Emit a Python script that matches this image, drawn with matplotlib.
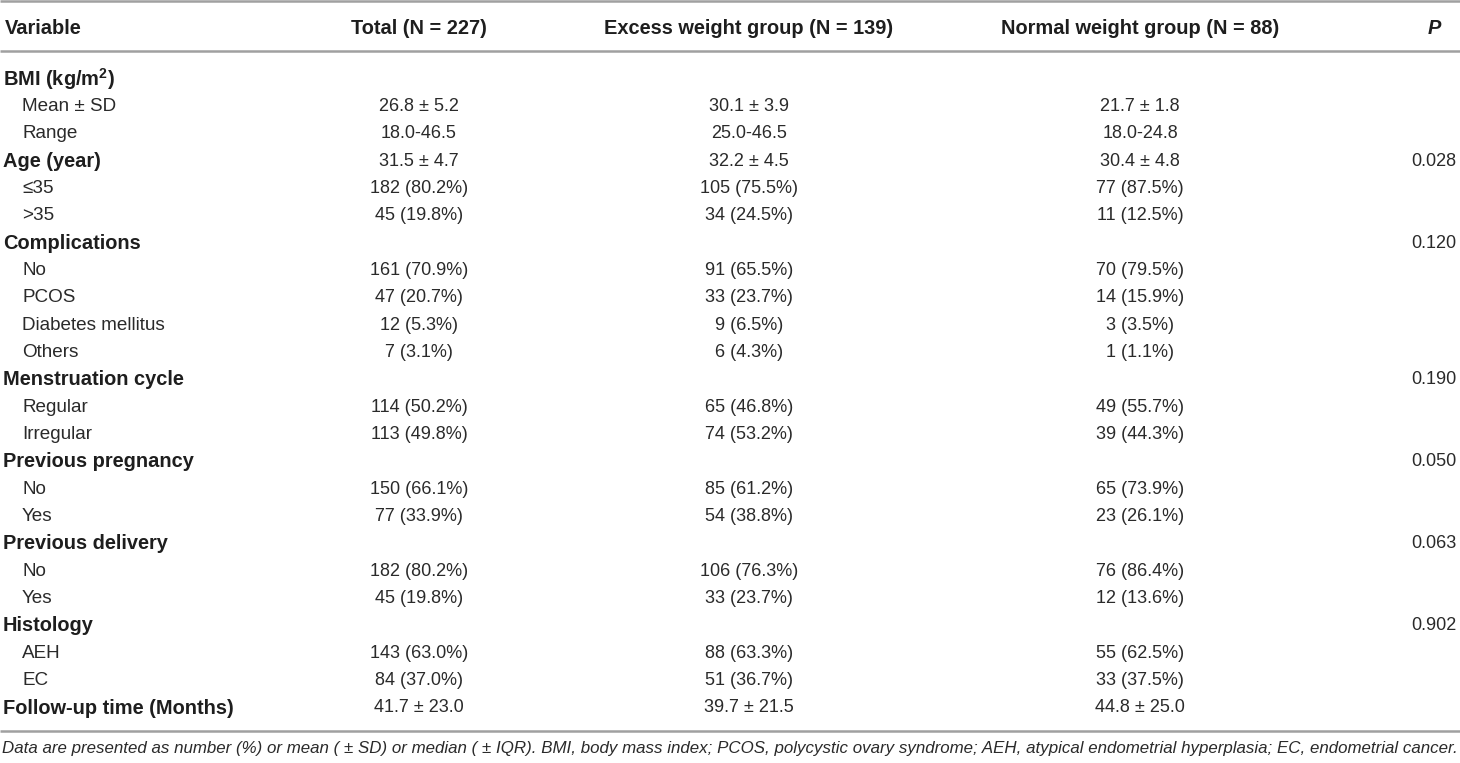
import matplotlib
matplotlib.use("Agg")
import matplotlib.pyplot as plt
from matplotlib import font_manager

# ---------------- data ----------------
columns = ["Variable", "Total (N = 227)", "Excess weight group (N = 139)",
           "Normal weight group (N = 88)", "P"]

row_labels = ["BMI (kg/m$^{\\mathbf{2}}$)", "Mean ± SD", "Range",
              "Age (year)", "≤35", ">35",
              "Complications", "No", "PCOS", "Diabetes mellitus", "Others",
              "Menstruation cycle", "Regular", "Irregular",
              "Previous pregnancy", "No", "Yes",
              "Previous delivery", "No", "Yes",
              "Histology", "AEH", "EC",
              "Follow-up time (Months)"]
row_is_group = [True, False, False,
                True, False, False,
                True, False, False, False, False,
                True, False, False,
                True, False, False,
                True, False, False,
                True, False, False,
                True]
total_vals = ["", "26.8 ± 5.2", "18.0-46.5",
              "31.5 ± 4.7", "182 (80.2%)", "45 (19.8%)",
              "", "161 (70.9%)", "47 (20.7%)", "12 (5.3%)", "7 (3.1%)",
              "", "114 (50.2%)", "113 (49.8%)",
              "", "150 (66.1%)", "77 (33.9%)",
              "", "182 (80.2%)", "45 (19.8%)",
              "", "143 (63.0%)", "84 (37.0%)",
              "41.7 ± 23.0"]
excess_vals = ["", "30.1 ± 3.9", "25.0-46.5",
               "32.2 ± 4.5", "105 (75.5%)", "34 (24.5%)",
               "", "91 (65.5%)", "33 (23.7%)", "9 (6.5%)", "6 (4.3%)",
               "", "65 (46.8%)", "74 (53.2%)",
               "", "85 (61.2%)", "54 (38.8%)",
               "", "106 (76.3%)", "33 (23.7%)",
               "", "88 (63.3%)", "51 (36.7%)",
               "39.7 ± 21.5"]
normal_vals = ["", "21.7 ± 1.8", "18.0-24.8",
               "30.4 ± 4.8", "77 (87.5%)", "11 (12.5%)",
               "", "70 (79.5%)", "14 (15.9%)", "3 (3.5%)", "1 (1.1%)",
               "", "49 (55.7%)", "39 (44.3%)",
               "", "65 (73.9%)", "23 (26.1%)",
               "", "76 (86.4%)", "12 (13.6%)",
               "", "55 (62.5%)", "33 (37.5%)",
               "44.8 ± 25.0"]
p_vals = ["", "", "",
          "0.028", "", "",
          "0.120", "", "", "", "",
          "0.190", "", "",
          "0.050", "", "",
          "0.063", "", "",
          "0.902", "", "",
          ""]
footnote = ("Data are presented as number (%) or mean ( ± SD) or median ( ± IQR). "
            "BMI, body mass index; PCOS, polycystic ovary syndrome; AEH, atypical "
            "endometrial hyperplasia; EC, endometrial cancer.")

# ---------------- style ----------------
names = {f.name for f in font_manager.fontManager.ttflist}
base = "Liberation Sans" if "Liberation Sans" in names else "DejaVu Sans"
narrow = "Liberation Sans Narrow" if "Liberation Sans Narrow" in names else base
plt.rcParams["font.family"] = [base, "DejaVu Sans"]
plt.rcParams["mathtext.fontset"] = "custom"
plt.rcParams["mathtext.rm"] = base + ":bold"
plt.rcParams["mathtext.bf"] = base + ":bold"

W, H = 1460, 763
fig = plt.figure(figsize=(W / 100, H / 100), dpi=100)
ax = fig.add_axes([0, 0, 1, 1])
ax.set_xlim(0, W)
ax.set_ylim(H, 0)
ax.axis("off")

txt = "#1e1e1e"
txt_reg = "#2a2a2a"
line_c = "#a0a0a0"
fs_bold = 14.4
fs_lab = 13.6
fs_val = 13.0

col_x = [5, 419, 749, 1140, 1434]
header_y = 28.5
row0_y = 79
row_step = (708 - 79) / 23

# rules
for y in (1.0, 51.0, 731.0):
    ax.plot([0, W], [y, y], color=line_c, lw=1.8, solid_capstyle="butt")

# header
for i, name in enumerate(columns):
    ax.text(col_x[i], header_y, name, ha="left" if i == 0 else "center",
            va="center", fontsize=fs_bold, fontweight="bold", color=txt,
            fontstyle="italic" if name == "P" else "normal")

# body
for r, lab in enumerate(row_labels):
    y = row0_y + r * row_step
    if row_is_group[r]:
        ax.text(3, y, lab, ha="left", va="center", fontsize=fs_bold,
                fontweight="bold", color=txt)
    else:
        ax.text(22, y, lab, ha="left", va="center", fontsize=fs_lab, color=txt_reg)
    for ci, vals in zip((1, 2, 3, 4), (total_vals, excess_vals, normal_vals, p_vals)):
        if vals[r]:
            ax.text(col_x[ci], y, vals[r], ha="center", va="center",
                    fontsize=fs_val, color=txt_reg)

# footnote (fit to width)
ft = ax.text(2, 749, footnote, ha="left", va="center", fontsize=12.6,
             fontstyle="italic", color=txt_reg, family=[narrow, "DejaVu Sans"])
fig.canvas.draw()
bb = ft.get_window_extent()
target = 1455
ft.set_fontsize(12.6 * target / bb.width)

fig.savefig("out.png", dpi=100)
